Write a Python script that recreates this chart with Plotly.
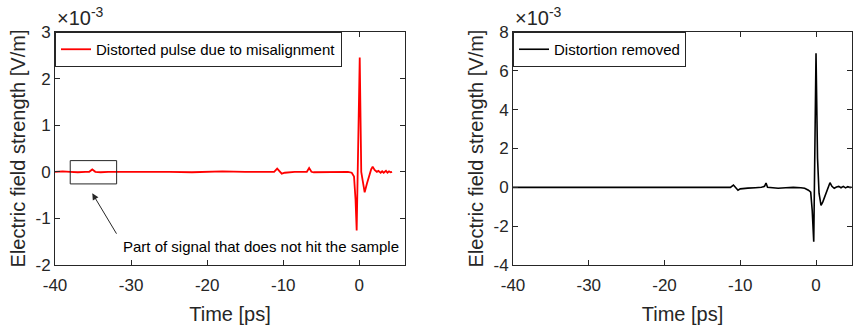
import plotly.graph_objects as go

# ---- data (field values in units of 1e-3 V/m) ----
t_left = [-40, -39, -38, -37, -36, -35.5, -35.1, -34.7, -34, -33, -31, -29, -27, -25, -22, -20,
          -18, -15, -13, -12, -11.2, -10.8, -10.5, -10.2, -9.8, -9.3, -8.5, -7.5, -6.9, -6.6,
          -6.3, -6.0, -5.0, -4.0, -3.0, -2.0, -1.5, -1.0, -0.7, -0.5, -0.35, 0.05, 0.25, 0.45,
          0.7, 1.0, 1.3, 1.55, 1.75, 2.0, 2.3, 2.5, 2.8, 3.0, 3.2, 3.5, 3.7, 3.9, 4.1, 4.3]
e_left = [0.0, 0.01, 0.0, -0.01, 0.0, 0.0, 0.05, 0.0, -0.01, 0.0, 0.0, 0.0, 0.01, 0.0, -0.01, 0.0,
          0.01, 0.0, 0.0, 0.0, 0.0, 0.07, 0.01, -0.04, -0.02, -0.01, 0.0, 0.0, 0.0, 0.08,
          0.0, -0.01, -0.01, 0.0, 0.0, 0.0, 0.0, -0.02, -0.1, -0.6, -1.26, 2.45, 0.0, -0.2,
          -0.44, -0.25, -0.05, 0.05, 0.11, 0.04, 0.0, 0.02, -0.02, 0.01, -0.02, 0.02, -0.02, 0.01, -0.01, 0.0]

t_right = [-40, -38, -36, -34, -32, -30, -27, -24, -21, -18, -15, -13, -12, -11.3, -10.9, -10.6,
           -10.3, -10.0, -9.5, -9.0, -8.0, -7.2, -6.8, -6.6, -6.4, -6.0, -5.0, -4.0, -3.0, -2.0,
           -1.5, -1.0, -0.7, -0.5, -0.3, 0.0, 0.2, 0.4, 0.66, 0.9, 1.2, 1.5, 1.7, 1.84, 2.1,
           2.4, 2.7, 3.0, 3.3, 3.6, 3.9, 4.2, 4.5, 4.7]
e_right = [0.0, 0.0, 0.01, 0.0, -0.01, 0.0, 0.0, 0.01, 0.0, 0.0, 0.0, 0.0, 0.0, 0.0, 0.12, 0.0,
           -0.15, -0.08, -0.05, -0.04, -0.02, 0.0, 0.05, 0.22, 0.0, -0.02, -0.05, -0.02, 0.0, -0.02,
           -0.05, -0.15, -0.25, -1.2, -2.8, 6.9, 1.5, -0.3, -0.93, -0.75, -0.4, -0.05, 0.1, 0.24, 0.05,
           -0.05, 0.02, 0.05, -0.02, 0.05, -0.03, 0.04, -0.01, 0.02]

x_ticks = [-40, -30, -20, -10, 0]
x_labels = ["-40", "-30", "-20", "-10", "0"]
yl_ticks = [-2, -1, 0, 1, 2, 3]
yl_labels = ["-2", "-1", "0", "1", "2", "3"]
yr_ticks = [-4, -2, 0, 2, 4, 6, 8]
yr_labels = ["-4", "-2", "0", "2", "4", "6", "8"]

W, H = 853, 326
FONT = "Liberation Sans, Arial, sans-serif"
AX = "#262626"

fig = go.Figure()
fig.add_trace(go.Scatter(x=t_left, y=e_left, mode="lines", name="Distorted pulse due to misalignment",
                         line=dict(color="#ff0000", width=1.8), xaxis="x", yaxis="y", legend="legend"))
fig.add_trace(go.Scatter(x=t_right, y=e_right, mode="lines", name="Distortion removed",
                         line=dict(color="#000000", width=1.6), xaxis="x2", yaxis="y2", legend="legend2"))

ydom = [(H - 265) / H, (H - 32) / H]
common_ax = dict(showline=True, linecolor=AX, linewidth=1, mirror="ticks", ticks="inside",
                 ticklen=5, tickcolor=AX, showgrid=False, zeroline=False,
                 tickfont=dict(family=FONT, size=17, color=AX))
title_font = dict(family=FONT, size=20, color=AX)
xa = dict(ticklabelstandoff=5)

fig.update_layout(
    width=W, height=H, margin=dict(l=0, r=0, t=0, b=0, autoexpand=False),
    paper_bgcolor="white", plot_bgcolor="white",
    xaxis=dict(domain=[55 / W, 405 / W], range=[-40, 6], tickvals=x_ticks, ticktext=x_labels,
               title=dict(text="Time [ps]", font=title_font, standoff=12), anchor="y",
               **xa, **common_ax),
    yaxis=dict(domain=ydom, range=[-2, 3], tickvals=yl_ticks, ticktext=yl_labels,
               title=dict(text="Electric field strength [V/m]", font=title_font, standoff=4),
               anchor="x", **common_ax),
    xaxis2=dict(domain=[513 / W, 852 / W], range=[-40, 4.75], tickvals=x_ticks, ticktext=x_labels,
                title=dict(text="Time [ps]", font=title_font, standoff=12), anchor="y2",
                **xa, **common_ax),
    yaxis2=dict(domain=ydom, range=[-4, 8], tickvals=yr_ticks, ticktext=yr_labels,
                title=dict(text="Electric field strength [V/m]", font=title_font, standoff=4),
                anchor="x2", **common_ax),
    legend=dict(x=55 / W, y=ydom[1], xanchor="left", yanchor="top", bgcolor="white",
                bordercolor=AX, borderwidth=1, font=dict(family=FONT, size=15, color="#000"),
                itemwidth=30, tracegroupgap=0),
    legend2=dict(x=513 / W, y=ydom[1], xanchor="left", yanchor="top", bgcolor="white",
                 bordercolor=AX, borderwidth=1, font=dict(family=FONT, size=15, color="#000"),
                 itemwidth=30, tracegroupgap=0),
    showlegend=True,
)

# rectangle marking the part of the signal
fig.add_shape(type="rect", xref="x", yref="y", x0=-38, x1=-31.9, y0=-0.26, y1=0.24,
              line=dict(color=AX, width=1))

# arrow and its label
fig.add_annotation(xref="x", yref="y", axref="x", ayref="y", x=-35.1, y=-0.46, ax=-31.8, ay=-1.36,
                   text="", showarrow=True, arrowhead=2, arrowsize=1.3, arrowwidth=1, arrowcolor=AX)
fig.add_annotation(xref="x", yref="y", x=-31.3, y=-1.61, xanchor="left", yanchor="middle",
                   text="Part of signal that does not hit the sample", showarrow=False,
                   font=dict(family=FONT, size=15, color="#000"))

# exponent labels
for xl in (55 / W, 513 / W):
    fig.add_annotation(xref="paper", yref="paper", x=xl, y=(H - 31) / H, xanchor="left",
                       yanchor="bottom", text="×10<sup>-3</sup>", showarrow=False,
                       font=dict(family=FONT, size=20, color=AX))

fig.write_html("out.html")
